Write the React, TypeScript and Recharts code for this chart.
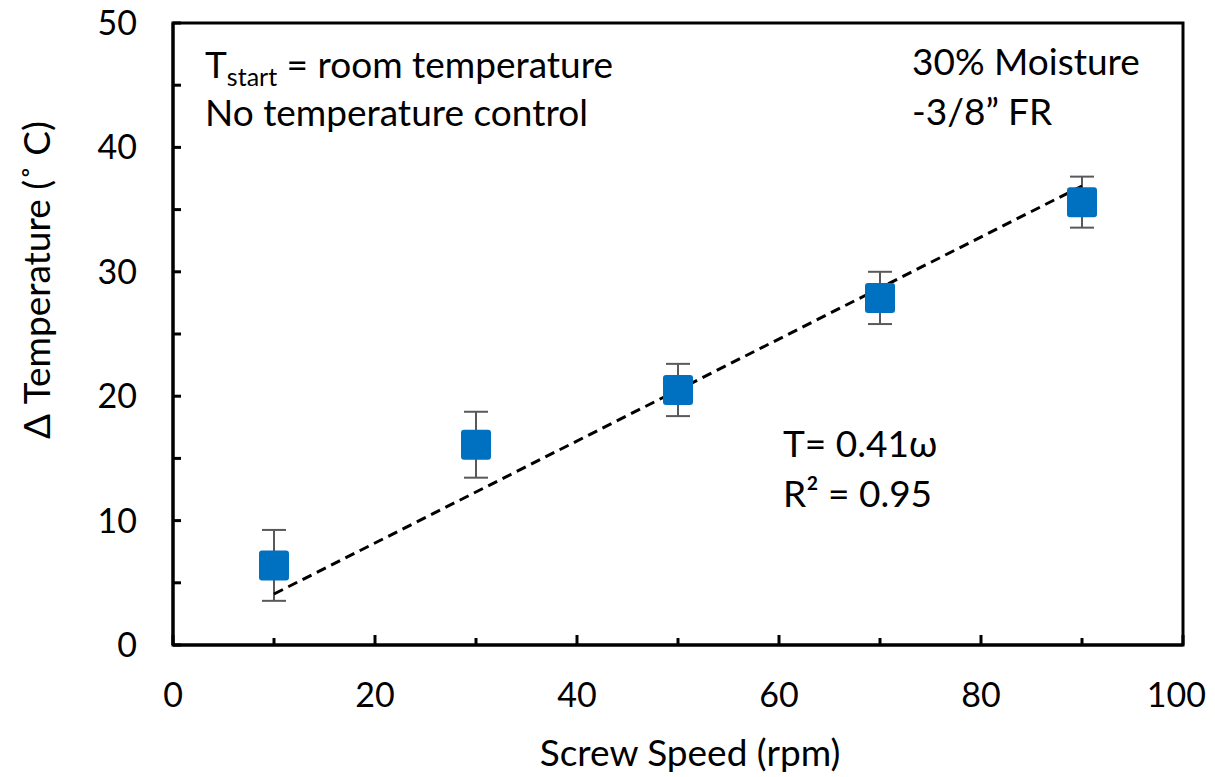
import React from "react";
import {
  ComposedChart,
  XAxis,
  YAxis,
  Scatter,
  Line,
  ErrorBar,
  ReferenceArea,
} from "recharts";

const screwSpeed = [10, 30, 50, 70, 90];
const deltaTemp = [6.4, 16.1, 20.5, 27.9, 35.6];
const tempError = [2.85, 2.65, 2.1, 2.1, 2.05];
const trendX = [10, 90];
const trendY = [4.1, 36.9];
const xTicks = [0, 10, 20, 30, 40, 50, 60, 70, 80, 90, 100];
const yTicks = [0, 5, 10, 15, 20, 25, 30, 35, 40, 45, 50];

const points = screwSpeed.map((x, i) => ({ x, y: deltaTemp[i], err: tempError[i] }));
const trend = trendX.map((x, i) => ({ x, y: trendY[i] }));

const FONT = "Lato, 'Open Sans', sans-serif";
const FS = 34;
const LFS = 37;

const XTick = (props: any) => {
  const { x, y, payload } = props;
  const v = payload.value;
  const major = v % 20 === 0;
  const last = v === 100;
  return (
    <g>
      <line x1={x} x2={x} y1={y} y2={y - (major ? 10 : 7)} stroke="#000" strokeWidth={3} />
      {major && (
        <text
          x={last ? x + 23 : x}
          y={y + 62}
          textAnchor={last ? "end" : "middle"}
          fontSize={FS}
          fontFamily={FONT}
          fill="#000"
        >
          {v}
        </text>
      )}
    </g>
  );
};

const YTick = (props: any) => {
  const { x, y, payload } = props;
  const v = payload.value;
  const major = v % 10 === 0;
  return (
    <g>
      <line x1={x} x2={x + 8} y1={y} y2={y} stroke="#000" strokeWidth={3} />
      {major && (
        <text x={x - 36} y={y + 12} textAnchor="end" fontSize={FS} fontFamily={FONT} fill="#000">
          {v}
        </text>
      )}
    </g>
  );
};

const Marker = (props: any) => {
  const { cx, cy } = props;
  if (cx == null || cy == null) return null;
  return <rect x={cx - 15} y={cy - 15} width={30} height={30} rx={3} ry={3} fill="#0070C0" />;
};

export default function App() {
  const W = 1199;
  const H = 769;
  return (
    <div style={{ position: "relative", width: W, height: H }}>
      <style>{"svg { overflow: visible; }"}</style>
      <ComposedChart
        width={W}
        height={H}
        margin={{ top: 15, right: 24, bottom: 0, left: 0 }}
      >
        <XAxis
          type="number"
          dataKey="x"
          domain={[0, 100]}
          ticks={xTicks}
          interval={0}
          height={132}
          tickSize={0}
          tickMargin={0}
          tickLine={false}
          axisLine={{ stroke: "#000", strokeWidth: 3 }}
          tick={<XTick />}
          allowDataOverflow
        />
        <YAxis
          type="number"
          domain={[0, 50]}
          ticks={yTicks}
          interval={0}
          width={165}
          tickSize={0}
          tickMargin={0}
          tickLine={false}
          axisLine={{ stroke: "#000", strokeWidth: 3 }}
          tick={<YTick />}
          allowDataOverflow
        />
        <ReferenceArea
          x1={0}
          x2={100}
          y1={0}
          y2={50}
          fill="none"
          fillOpacity={0}
          stroke="#000"
          strokeWidth={3}
          ifOverflow="visible"
        />
        <Scatter data={points} dataKey="y" shape={<Marker />} isAnimationActive={false}>
          <ErrorBar dataKey="err" direction="y" width={12} strokeWidth={2} stroke="#595959" isAnimationActive={false} />
        </Scatter>
        <Line
          data={trend}
          dataKey="y"
          type="linear"
          stroke="#000"
          strokeWidth={3}
          strokeDasharray="10 6"
          dot={false}
          activeDot={false}
          isAnimationActive={false}
        />
      </ComposedChart>
      <svg
        width={W}
        height={H}
        style={{ position: "absolute", left: 0, top: 0, pointerEvents: "none", overflow: "visible" }}
        fontFamily={FONT}
      >
        <text x={197} y={70} fontSize={LFS} fill="#000">
          T
          <tspan fontSize={25} dy={8}>start</tspan>
          <tspan dy={-8}> = room temperature</tspan>
        </text>
        <text x={197} y={118} fontSize={LFS} fill="#000">No temperature control</text>
        <text x={904} y={67} fontSize={LFS} fill="#000">30% Moisture</text>
        <text x={904} y={117} fontSize={LFS} fill="#000">-3/8” FR</text>
        <text x={775} y={449} fontSize={LFS} fill="#000">T= 0.41ω</text>
        <text x={775} y={499} fontSize={LFS} fill="#000">R² = 0.95</text>
        <text x={682} y={758} fontSize={LFS} fill="#000" textAnchor="middle">Screw Speed (rpm)</text>
        <text
          x={27}
          y={272}
          fontSize={LFS}
          fill="#000"
          textAnchor="middle"
          dominantBaseline="central"
          transform="rotate(-90 27 272)"
        >
          Δ Temperature (˚ C)
        </text>
      </svg>
    </div>
  );
}
